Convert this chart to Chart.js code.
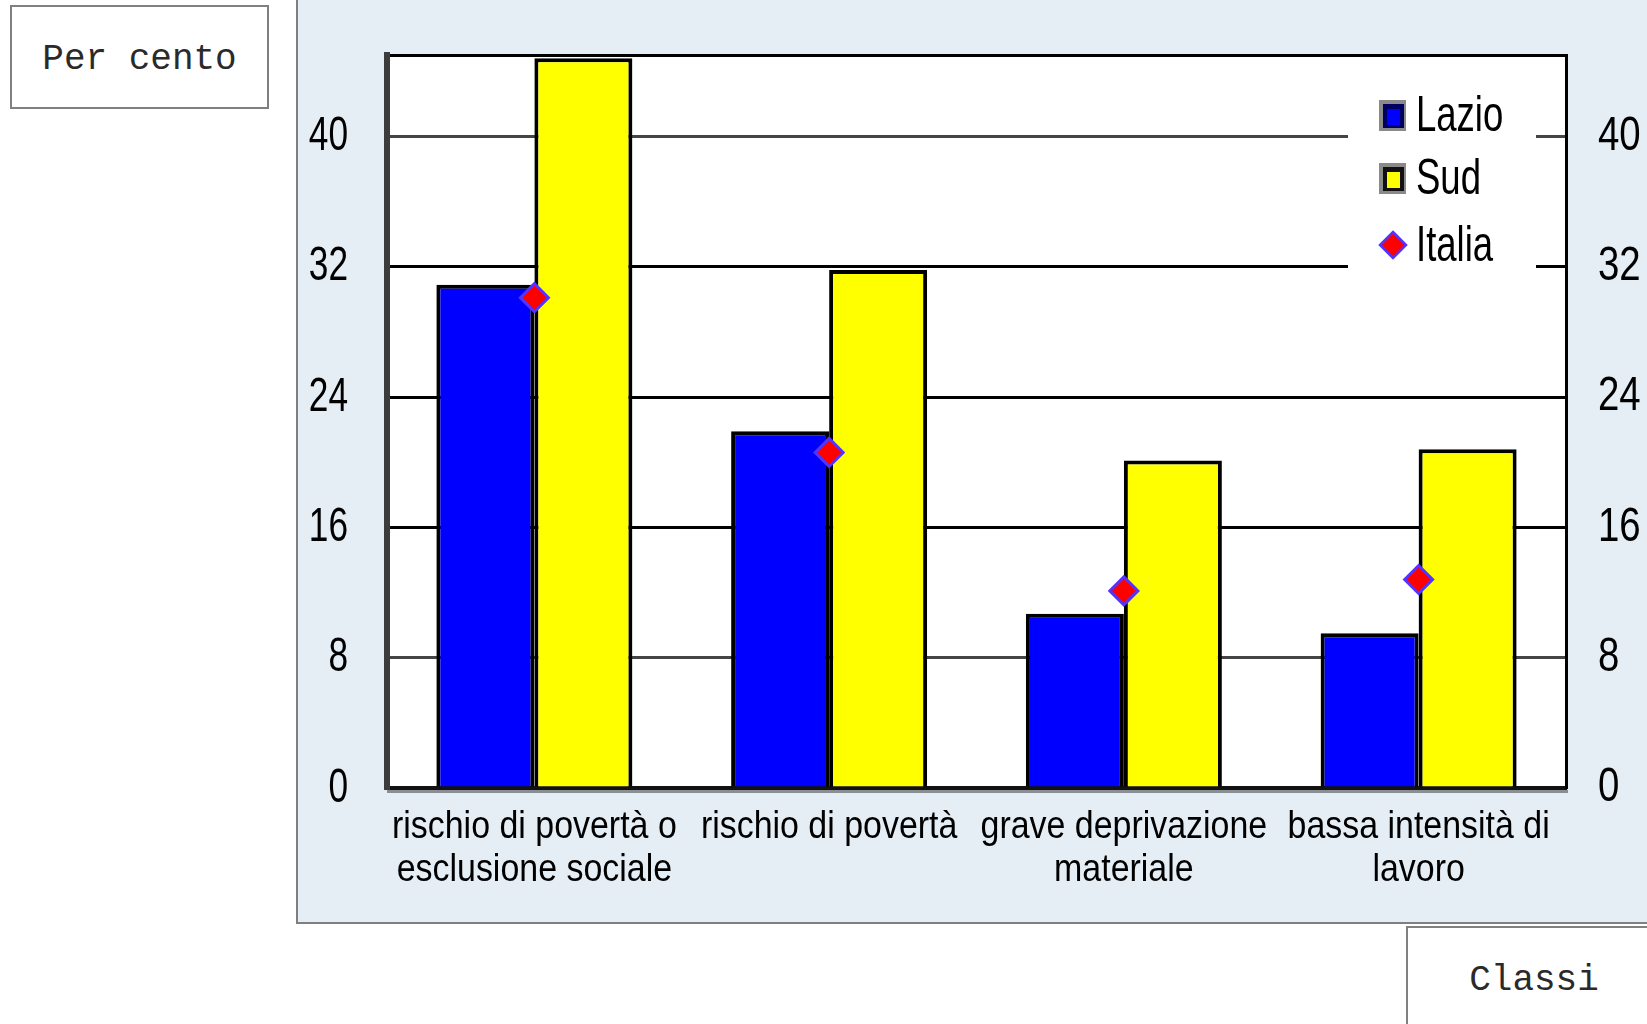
<!DOCTYPE html>
<html><head><meta charset="utf-8">
<script src="https://cdn.jsdelivr.net/npm/chart.js@4"></script>
<style>
html,body{margin:0;padding:0;background:#fff;width:1647px;height:1024px;overflow:hidden;position:relative}
#panel{position:absolute;left:296px;top:-4px;width:1400px;height:928px;background:#E6EEF5;border-left:2px solid #7f7f7f;border-bottom:2px solid #7f7f7f;box-sizing:border-box}
.box{position:absolute;background:#fff;border:2px solid #808080;box-sizing:border-box;font-family:'Liberation Mono','Courier New',monospace;font-size:36px;display:flex;align-items:center;justify-content:center;color:#2a2a2a}
#per{left:10px;top:5px;width:259px;height:104px;padding-top:4px}
#cls{left:1406px;top:926px;width:256px;height:106px;padding-top:2px}
#c{position:absolute;left:0;top:0}
</style></head>
<body>
<div id="panel"></div>
<div class="box" id="per">Per cento</div>
<div class="box" id="cls">Classi</div>
<canvas id="c" width="1647" height="1024"></canvas>
<script>
// ---- data ----
const categories = [['rischio di povertà o','esclusione sociale'],['rischio di povertà'],['grave deprivazione','materiale'],['bassa intensità di','lavoro']];
const lazio  = [30.9, 21.9, 10.7, 9.5];
const sud    = [44.8, 31.8, 20.1, 20.8];
const italia = [30.1, 20.6, 12.1, 12.8];
const yTicks = [0, 8, 16, 24, 32, 40];
const yMax = 45;

const FONT = "'Liberation Sans',Arial,sans-serif";
// horizontal squeeze per font size, to mimic the narrow bitmap font of the original
const squeeze = {49: 0.72, 48: 0.8, 50: 0.73, 39: 0.87};

const condensePlugin = {
  id:'condense',
  beforeInit(chart){
    const ctx = chart.ctx;
    if (ctx._patched) return;
    const orig = ctx.fillText.bind(ctx);
    ctx.fillText = function(text, x, y, maxW){
      const m = /(\d+(?:\.\d+)?)px/.exec(ctx.font);
      const size = m ? Math.round(parseFloat(m[1])) : 12;
      const sx = squeeze[size] || 1;
      ctx.save(); ctx.translate(x, y); ctx.scale(sx, 1);
      if (maxW !== undefined && maxW !== null) orig(text, 0, 0, maxW/sx); else orig(text, 0, 0);
      ctx.restore();
    };
    ctx._patched = true;
  }
};

const bgPlugin = {
  id:'bg',
  beforeDraw(chart){
    const {ctx, chartArea:a} = chart;
    ctx.save(); ctx.fillStyle='#fff';
    ctx.fillRect(a.left, a.top, a.right-a.left, a.bottom-a.top);
    ctx.restore();
  },
  beforeDatasetsDraw(chart){
    const {ctx, chartArea:a} = chart;
    ctx.save(); ctx.fillStyle='#fff';
    ctx.fillRect(a.right-218, a.top+28, 188, 202);
    ctx.restore();
  },
  afterDatasetsDraw(chart){
    const {ctx, chartArea:a} = chart;
    const ds = chart.data.datasets;
    const byLabel = l => ds.find(d=>d.label===l);
    const mx = a.right-173, tx = a.right-150;
    const rows = [{l:'Lazio', y:a.top+60}, {l:'Sud', y:a.top+123}, {l:'Italia', y:a.top+190}];
    ctx.save();
    // grey shadow under the bottom axis line
    ctx.fillStyle='#8a8f93'; ctx.fillRect(a.left, a.bottom+2, a.right-a.left+2, 3);
    rows.forEach(r=>{
      const d = byLabel(r.l);
      if (d.type==='line'){
        const R=13;
        ctx.beginPath();
        ctx.moveTo(mx, r.y-R); ctx.lineTo(mx+R, r.y); ctx.lineTo(mx, r.y+R); ctx.lineTo(mx-R, r.y); ctx.closePath();
        ctx.fillStyle=d.pointBackgroundColor; ctx.fill();
        ctx.lineWidth=2.5; ctx.strokeStyle=d.pointBorderColor; ctx.stroke();
      } else {
        ctx.fillStyle='#8a8a8a'; ctx.fillRect(mx-14, r.y-15, 27, 31);
        ctx.fillStyle= d.label==='Lazio' ? '#000060' : '#111'; ctx.fillRect(mx-10, r.y-11, 21, 24);
        ctx.fillStyle=d.backgroundColor; ctx.fillRect(mx-6, r.y-6, 13, 16);
      }
      ctx.fillStyle='#000'; ctx.font = "50px " + FONT; ctx.textBaseline='middle'; ctx.textAlign='left';
      ctx.fillText(r.l, tx, r.y+2);
    });
    ctx.restore();
  }
};

const tickBuilder = scale => { scale.ticks = yTicks.concat([yMax]).map(v=>({value:v})); };
const gridColor = c => { const v = c.tick && c.tick.value; return (v===40||v===8) ? '#454545' : '#000'; };

new Chart(document.getElementById('c'), {
  type:'bar',
  data:{labels:categories, datasets:[
    {type:'line', label:'Italia', data:italia, showLine:false, pointStyle:'rectRot', pointRadius:14, pointHoverRadius:14,
     pointBackgroundColor:'#ff0000', pointBorderColor:'#5533ff', pointBorderWidth:3, order:0, yAxisID:'y'},
    {label:'Lazio', data:lazio, backgroundColor:'#0000ff', borderColor:'#000', borderWidth:4,
     categoryPercentage:0.665, barPercentage:1, order:1, yAxisID:'y'},
    {label:'Sud', data:sud, backgroundColor:'#ffff00', borderColor:'#000', borderWidth:4,
     categoryPercentage:0.665, barPercentage:1, order:1, yAxisID:'y'}
  ]},
  options:{
    responsive:false, devicePixelRatio:1, animation:false,
    layout:{padding:{left:297, right:0, top:55, bottom:0}},
    plugins:{legend:{display:false}, tooltip:{enabled:false}},
    scales:{
      x:{ z:1, grid:{display:false}, border:{display:true, color:'#111', width:4},
          ticks:{font:{family:FONT, size:39, lineHeight:1.1}, color:'#000', padding:10, maxRotation:0, autoSkip:false},
          afterFit(s){ s.height = 1024-788; } },
      y:{ position:'left', min:0, max:yMax, afterBuildTicks:tickBuilder,
          grid:{color:gridColor, lineWidth:3, drawTicks:false},
          border:{display:true, color:'#3c3c3c', width:6},
          ticks:{font:{family:FONT, size:49, lineHeight:0.4}, color:'#000', padding:39, callback:v=> v===yMax ? '' : v},
          afterFit(s){ s.width = 90; } },
      y2:{ position:'right', min:0, max:yMax, afterBuildTicks:tickBuilder,
          grid:{display:false, drawTicks:false},
          border:{display:true, color:'#000', width:3},
          ticks:{font:{family:FONT, size:48, lineHeight:0.4}, color:'#000', padding:32, callback:v=> v===yMax ? '' : v},
          afterFit(s){ s.width = 81; } }
    }
  },
  plugins:[condensePlugin, bgPlugin]
});
</script>
</body></html>
